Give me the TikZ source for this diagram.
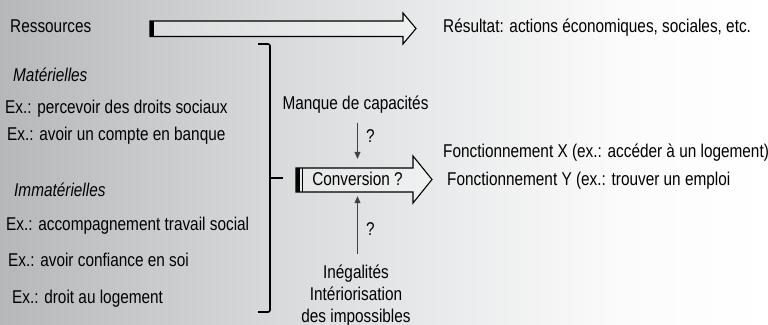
\documentclass[tikz,border=0pt]{standalone}
\usepackage{fontspec}
\setmainfont{Liberation Sans}[FakeStretch=0.83]
\usepackage{xcolor}
\usetikzlibrary{positioning,arrows.meta,calc}

\definecolor{bgA}{HTML}{B6B7B9}
\definecolor{bgB}{HTML}{D9DADB}
\definecolor{bgC}{HTML}{EAEBEC}
\definecolor{bgD}{HTML}{FBFBFB}

\begin{document}
\begin{tikzpicture}[
      x=1pt, y=-1pt,
      txt/.style={inner sep=0pt, font=\fontsize{18.5}{23}\selectfont},
      lbl/.style={txt, anchor=base west},
      cat/.style={lbl, font=\fontsize{18.5}{23}\selectfont\itshape},
      blockarr/.style={draw=black, line width=1.1pt, fill=white, fill opacity=0.35, line join=miter},
      smallarr/.style={draw=black!75, line width=0.7pt, -{Triangle[length=7pt,width=6pt]}},
      brace/.style={draw=black, line width=1.6pt, rounded corners=2pt},
    ]
    \useasboundingbox (0,0) rectangle (768,324);
    % background
    \shade[left color=bgA, right color=bgB] (0,0) rectangle (280,324);
    \shade[left color=bgB, right color=bgC] (280,0) rectangle (450,324);
    \shade[left color=bgC, right color=bgD] (450,0) rectangle (620,324);
    \shade[left color=bgD, right color=white] (620,0) rectangle (768,324);

    % top arrow
    \draw[blockarr] (150,21) -- (403,21) -- (403,13) -- (416,28.5) -- (403,44)
        -- (403,36.5) -- (150,36.5) -- cycle;
    \fill (150,21) rectangle (154,36.5);
    \node[lbl] (res) at (10,32.5) {Ressources};
    \node[lbl] (out) at (443,32.5) {Résultat: actions économiques, sociales, etc.};

    % resources
    \node[cat] (mat) at (13,81.5) {Matérielles};
    \node[lbl] (m1) at (5,113) {Ex.: percevoir des droits sociaux};
    \node[lbl] (m2) at (7,140.5) {Ex.: avoir un compte en banque};
    \node[cat] (imm) at (14,196) {Immatérielles};
    \node[lbl] (i1) at (6,230.5) {Ex.: accompagnement travail social};
    \node[lbl] (i2) at (8,266) {Ex.: avoir confiance en soi};
    \node[lbl] (i3) at (12,303) {Ex.: droit au logement};

    % bracket
    \draw[brace] (258,44) -- (270,44) -- (270,312) -- (258,312);
    \draw[brace] (270,178) -- (283,178);

    % conversion arrow
    \draw[blockarr] (296,168) -- (413,168) -- (413,156) -- (432,179.5) -- (413,203)
        -- (413,192) -- (296,192) -- cycle;
    \fill (296,168) rectangle (299.5,192);
    \draw[line width=0.8pt] (302,168) -- (302,192);
    \node[txt, minimum width=111pt, minimum height=24pt] (conv) at (357.5,179) {Conversion ?};

    % factors
    \node[txt, anchor=base] (mq) at (355.5,109.5) {Manque de capacités};
    \node[txt, anchor=north, align=center, font=\fontsize{18.5}{22}\selectfont] (ineg) at (356,264.5)
        {Inégalités\\Intériorisation\\des impossibles};
    \draw[smallarr, shorten <=9pt, shorten >=8pt] (mq.south -| conv) -- (conv.north);
    \draw[smallarr, shorten <=11pt, shorten >=5pt] (ineg.north -| conv) -- (conv.south);
    \node[lbl] (q1) at (366,142) {?};
    \node[lbl] (q2) at (366,235.5) {?};

    % functionings
    \node[lbl] (fx) at (443,157) {Fonctionnement X (ex.: accéder à un logement)};
    \node[lbl] (fy) at (447,185.5) {Fonctionnement Y (ex.: trouver un emploi};
  \end{tikzpicture}
\end{document}
